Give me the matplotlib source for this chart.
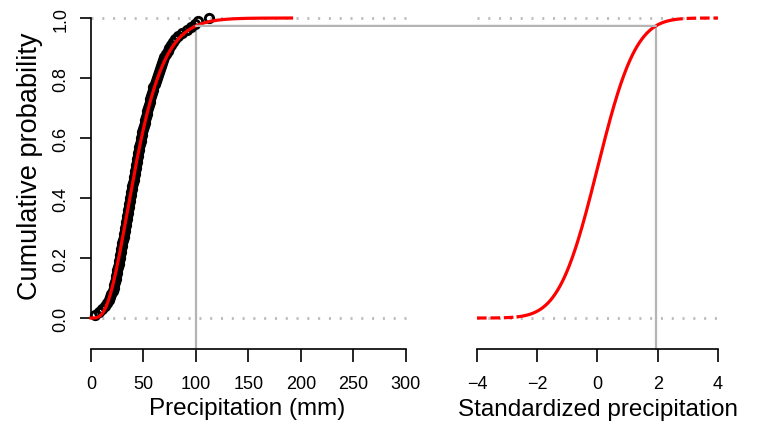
"""
Precipitation CDF and its standard normal transform (SPI-style figure)
"""
import math
import numpy as np
import matplotlib
matplotlib.use("Agg")
import matplotlib.pyplot as plt
from matplotlib.patches import ConnectionPatch

plt.rcParams['font.family'] = ['Liberation Sans', 'DejaVu Sans']

# monthly precipitation sample (mm), sorted
precip = [
    4.0, 7.5, 10.5, 13.0, 15.5, 17.5, 18.5, 19.5, 20.5, 21.5,
    22.0, 22.5, 23.5, 24.0, 24.5, 25.0, 26.0, 26.5, 27.0, 27.5,
    28.0, 28.5, 29.0, 29.5, 30.0, 30.5, 31.0, 31.5, 32.0, 32.5,
    33.0, 33.5, 34.0, 34.5, 35.0, 35.5, 36.0, 36.5, 37.0, 37.5,
    38.0, 38.5, 39.0, 39.5, 40.0, 40.5, 41.0, 41.5, 42.0, 42.5,
    43.0, 43.5, 44.0, 44.5, 45.0, 45.5, 46.0, 46.5, 47.5, 48.0,
    48.5, 49.0, 49.5, 50.5, 51.0, 51.5, 52.5, 53.0, 53.5, 54.5,
    55.0, 56.0, 56.5, 57.5, 58.0, 59.0, 59.5, 60.5, 61.5, 62.5,
    63.5, 64.5, 65.5, 66.5, 67.5, 69.0, 70.0, 71.5, 73.0, 74.5,
    76.0, 78.0, 80.0, 83.0, 86.5, 91.0, 95.0, 99.0, 101.5, 112.0,
]

# fitted gamma parameters
gamma_shape = 4.0
gamma_scale = 11.5
fit_max = 191.0

# value that gets transformed
x_example = 100.0

precip_ticks = [0, 50, 100, 150, 200, 250, 300]
z_ticks = [-4, -2, 0, 2, 4]
prob_ticks = [0.0, 0.2, 0.4, 0.6, 0.8, 1.0]

GRAY_DOT = '#bebebe'
GRAY_LINE = '#b4b4b4'
DOTTED = (0, (0.7, 3.0))


def gamma_cdf(x, k, theta):
    # cumulative integral of the gamma density on a fine grid
    grid = np.linspace(0, x.max(), 4000)
    pdf = np.zeros_like(grid)
    pos = grid > 0
    g = grid[pos]
    pdf[pos] = np.exp((k - 1) * np.log(g) - g / theta - math.lgamma(k) - k * math.log(theta))
    cdf = np.concatenate([[0.0], np.cumsum(0.5 * (pdf[1:] + pdf[:-1]) * np.diff(grid))])
    return np.interp(x, grid, cdf)


def norm_cdf(z):
    return 0.5 * (1.0 + np.array([math.erf(v / math.sqrt(2.0)) for v in np.atleast_1d(z)]))


def norm_ppf(p):
    lo, hi = -8.0, 8.0
    for _ in range(80):
        mid = 0.5 * (lo + hi)
        if norm_cdf(mid)[0] < p:
            lo = mid
        else:
            hi = mid
    return 0.5 * (lo + hi)


fig = plt.figure(figsize=(7.58, 4.27), dpi=100)
ax1 = fig.add_axes([0.1034, 0.2248, 0.4488, 0.7588])
ax2 = fig.add_axes([0.6166, 0.2248, 0.3433, 0.7588])

p_example = float(gamma_cdf(np.array([0.0, x_example]), gamma_shape, gamma_scale)[1])
z_example = norm_ppf(p_example)
axis_y = -0.103

# left panel: empirical and fitted CDF
x = np.array(precip)
ecdf = np.arange(1, len(x) + 1) / len(x)
ax1.plot([0, 300], [0, 0], ls=DOTTED, lw=2.1, color=GRAY_DOT, zorder=1)
ax1.plot([0, 300], [1, 1], ls=DOTTED, lw=2.1, color=GRAY_DOT, zorder=1)
ax1.plot(x, ecdf, 'o', ms=6, mfc='none', mec='black', mew=2.1, zorder=3, clip_on=False)
xf = np.linspace(0, fit_max, 400)
ax1.plot(xf, gamma_cdf(xf, gamma_shape, gamma_scale), color='red', lw=2.3, zorder=4)
ax1.plot([x_example, x_example], [axis_y, p_example], color=GRAY_LINE, lw=1.6,
         zorder=2, clip_on=False)

# right panel: standard normal CDF
zs = np.linspace(-4, 4, 400)
cz = norm_cdf(zs)
ax2.plot([-4, 4], [0, 0], ls=DOTTED, lw=2.1, color=GRAY_DOT, zorder=1)
ax2.plot([-4, 4], [1, 1], ls=DOTTED, lw=2.1, color=GRAY_DOT, zorder=1)
mid = (zs >= -2.65) & (zs <= 2.5)
ax2.plot(zs[mid], cz[mid], color='red', lw=2.3, zorder=4)
ax2.plot(zs[zs <= -2.65], cz[zs <= -2.65], color='red', lw=2.3, ls=(0, (3, 1.2)), zorder=4)
ax2.plot(zs[zs >= 2.5], cz[zs >= 2.5], color='red', lw=2.3, ls=(0, (3, 1.2)), zorder=4)
ax2.plot([z_example, z_example], [axis_y, p_example], color=GRAY_LINE, lw=1.6,
         zorder=2, clip_on=False)

# horizontal link between the two panels
link = ConnectionPatch(xyA=(x_example, p_example), coordsA=ax1.transData,
                       xyB=(z_example, p_example), coordsB=ax2.transData,
                       color=GRAY_LINE, lw=1.6, zorder=2)
fig.add_artist(link)

for ax in (ax1, ax2):
    ax.set_ylim(-0.04, 1.04)
    ax.patch.set_visible(False)
    for s in ('top', 'right'):
        ax.spines[s].set_visible(False)
    ax.spines['bottom'].set_position(('outward', 13.7))
    ax.spines['bottom'].set_linewidth(1.2)
    ax.tick_params(axis='x', length=9.4, width=1.2, pad=9, labelsize=13)

ax1.set_xlim(-12, 312)
ax1.set_xticks(precip_ticks)
ax1.spines['bottom'].set_bounds(0, 300)
ax1.spines['left'].set_position(('data', 0))
ax1.spines['left'].set_bounds(0, 1)
ax1.spines['left'].set_linewidth(1.2)
ax1.set_yticks(prob_ticks)
ax1.set_yticklabels([f'{v:.1f}' for v in prob_ticks], rotation=90, va='center')
ax1.tick_params(axis='y', length=7.7, width=1.2, pad=8, labelsize=13)

ax2.set_xlim(-4.32, 4.32)
ax2.set_xticks(z_ticks)
ax2.set_xticklabels(['\u22124', '\u22122', '0', '2', '4'])
ax2.spines['bottom'].set_bounds(-4, 4)
ax2.spines['left'].set_visible(False)
ax2.set_yticks([])

fig.text(247.5 / 758, 12 / 427, 'Precipitation (mm)', ha='center', va='baseline', fontsize=17.5)
fig.text(597.5 / 758, 11 / 427, 'Standardized precipitation', ha='center', va='baseline',
         fontsize=17.5)
fig.text(43 / 758, 1 - 166 / 427, 'Cumulative probability', rotation=90, ha='right',
         va='center', fontsize=19.5)

fig.savefig('out.png', dpi=100)
